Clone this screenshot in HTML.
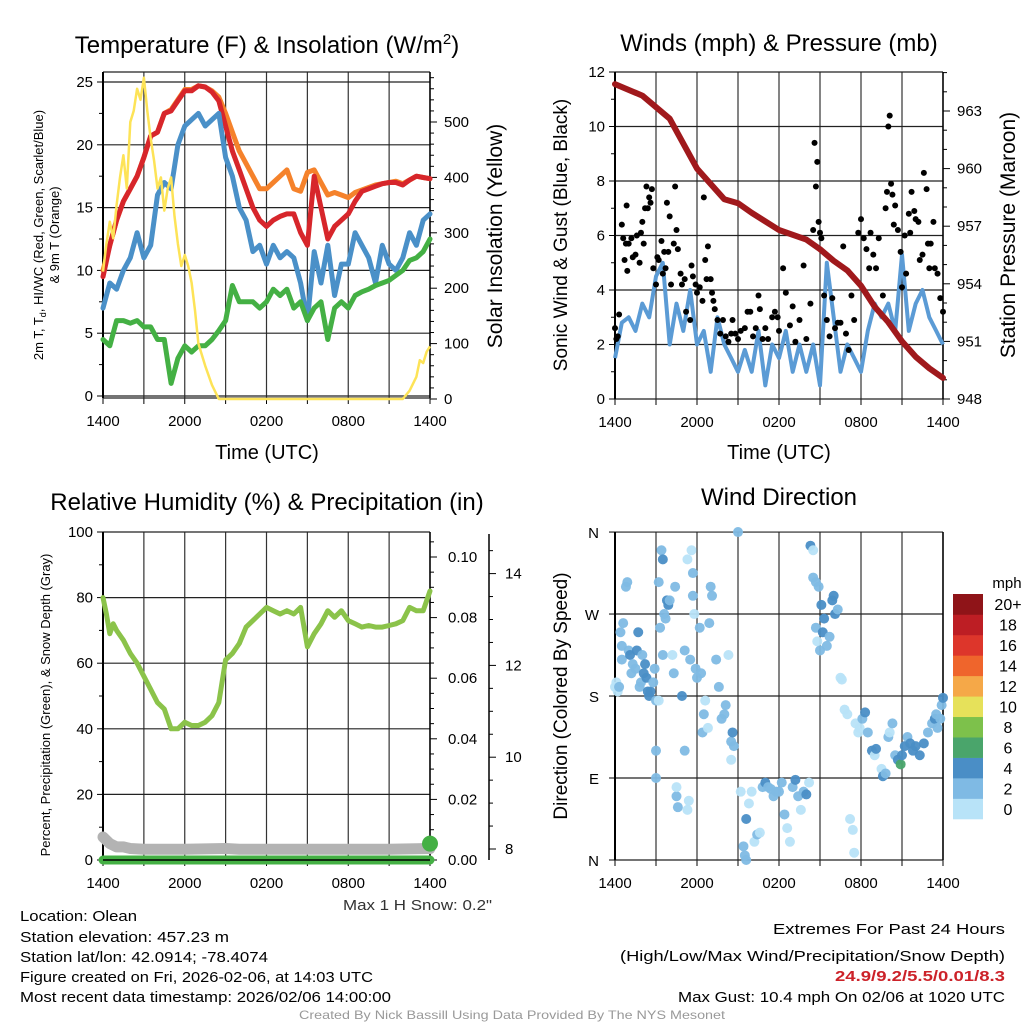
<!DOCTYPE html>
<html><head><meta charset="utf-8"><style>
html,body{margin:0;padding:0;background:#fff}
svg{display:block;font-family:"Liberation Sans",sans-serif}
</style></head><body>
<svg id="c" width="1024" height="1024" viewBox="0 0 1024 1024" xmlns="http://www.w3.org/2000/svg">
<rect width="1024" height="1024" fill="#fff"/>
<g id="g1"></g>
<g id="g2"></g>
<g id="g3"></g>
<g id="g4"></g>
<g font-size="24" text-anchor="middle" fill="#000">
<text x="267" y="53">Temperature (F) &amp; Insolation (W/m<tspan dy="-9" font-size="15">2</tspan><tspan dy="9">)</tspan></text>
<text x="779" y="51">Winds (mph) &amp; Pressure (mb)</text>
<text x="267" y="510">Relative Humidity (%) &amp; Precipitation (in)</text>
<text x="779" y="505">Wind Direction</text>
</g>
<g font-size="15" fill="#000">
<text x="20" y="921" textLength="117" lengthAdjust="spacingAndGlyphs">Location: Olean</text>
<text x="20" y="942" textLength="209" lengthAdjust="spacingAndGlyphs">Station elevation: 457.23 m</text>
<text x="20" y="962" textLength="248" lengthAdjust="spacingAndGlyphs">Station lat/lon: 42.0914; -78.4074</text>
<text x="20" y="982" textLength="353" lengthAdjust="spacingAndGlyphs">Figure created on Fri, 2026-02-06, at 14:03 UTC</text>
<text x="20" y="1002" textLength="371" lengthAdjust="spacingAndGlyphs">Most recent data timestamp: 2026/02/06 14:00:00</text>
</g>
<g font-size="15" text-anchor="end" fill="#000">
<text x="1005" y="934" textLength="232" lengthAdjust="spacingAndGlyphs">Extremes For Past 24 Hours</text>
<text x="1005" y="961" textLength="385" lengthAdjust="spacingAndGlyphs">(High/Low/Max Wind/Precipitation/Snow Depth)</text>
<text x="1005" y="981" font-weight="bold" fill="#cc2229" textLength="170" lengthAdjust="spacingAndGlyphs">24.9/9.2/5.5/0.01/8.3</text>
<text x="1005" y="1002" textLength="327" lengthAdjust="spacingAndGlyphs">Max Gust: 10.4 mph On 02/06 at 1020 UTC</text>
</g>
<text x="343" y="910" font-size="15" fill="#333" textLength="149" lengthAdjust="spacingAndGlyphs">Max 1 H Snow: 0.2"</text>
<text x="512" y="1019" font-size="12" fill="#999" text-anchor="middle" textLength="426" lengthAdjust="spacingAndGlyphs">Created By Nick Bassill Using Data Provided By The NYS Mesonet</text>
</svg>
<script>
// ---------- data ----------
const hoursHalf = [];for(let i=0;i<=48;i++)hoursHalf.push(i/2);
const tempRed = [9.5,12,14,15.5,16.5,17.5,19,20.7,21,22.5,22.7,23.5,24.3,24.3,24.7,24.6,24.2,23.5,21.5,19.5,18,16.5,15,14,13.5,14,14.3,14.5,14.5,13,12,17.5,15,12.5,13.5,14,14.5,15.5,16.3,16.5,16.7,16.9,17,17,16.8,17.2,17.5,17.4,17.3];
const temp9m = [10,12,14,15.5,16.5,17.5,19,20.7,21,22.5,22.8,23.6,24.4,24.4,24.7,24.6,24.3,23.8,22.5,21,19.5,18.5,17.5,16.5,16.5,17,17.5,18,16.5,16.3,17.8,18,17,16,16.2,16,15.8,16.2,16.4,16.6,16.8,16.9,17,17.1,16.9,17.2,17.5,17.4,17.3];
const windChill = [7,9,8.5,10,11,13,11,12,16,17,16.5,20,21.5,22,22.5,21.5,22,22.5,19,17.5,15,14,11.5,12,10.5,12,11,11.5,11,9,6,11.5,9,12,8,10.5,10.5,13,12,11,9,12,10.5,10,11,13,12,14,14.5];
const dewpoint = [4.5,4,6,6,5.8,6,5.5,5.5,4.5,4.5,1,3,4,3.5,4,4,4.5,5.2,6,8.8,7.5,7.5,7.5,7,7.5,8.5,8,8.5,7,7.5,6,7,7.5,4.5,7,7.5,7,8,8.3,8.5,8.8,9,9.2,9.6,10,10.8,11,11.5,12.5];
const solarHours = [0,0.25,0.5,0.75,1,1.25,1.5,1.75,2,2.25,2.5,2.75,3,3.25,3.5,3.75,4,4.25,4.5,4.75,5,5.25,5.5,5.75,6,6.25,6.5,6.75,7,7.5,8,8.5,22,22.5,23,23.25,23.5,23.75,24];
const solarVals = [230,280,320,290,350,400,440,380,500,520,560,540,580,520,470,430,380,400,340,380,400,330,280,240,260,240,210,160,100,60,25,0,0,15,40,70,65,85,95];
const windSpeed = [1.5,2.8,3,2.5,3.5,3,4.5,5,2,3.5,2.5,4,2,2.5,1,3,2,1.5,1,1.8,1,2.5,0.5,2,1.5,2.5,1,2,1,2,0.5,5,3,1,2,1.5,1,2.5,3.5,3,3.5,2.5,5.3,2.5,3.5,4,3,2.5,2];
const pressHours = [0,2,4,6,8,9,10,12,14,15,16,17,18,19,20,21,22,23,24];
const pressVals = [964.4,963.8,962.6,960.0,958.4,958.2,957.7,956.8,956.3,955.8,955.2,954.7,953.9,952.8,952.0,951.0,950.2,949.6,949.1];
const gustHours = [0,0.1,0.2,0.3,0.5,0.6,0.7,0.8,0.85,0.9,1.0,1.2,1.3,1.5,1.6,1.8,1.9,2.0,2.1,2.2,2.3,2.4,2.5,2.6,2.7,2.8,3.0,3.1,3.2,3.4,3.5,3.6,3.7,3.8,3.9,4.0,4.1,4.3,4.4,4.5,4.6,4.8,4.9,5.1,5.2,5.5,5.6,5.7,5.9,6.0,6.2,6.4,6.5,6.6,6.7,6.8,7.0,7.1,7.2,7.3,7.5,7.7,7.9,8.1,8.3,8.5,8.6,8.8,9.0,9.2,9.5,9.7,9.9,10.1,10.3,10.5,10.6,10.8,11.0,11.2,11.5,11.7,11.9,12.0,12.3,12.5,12.8,13.0,13.2,13.5,13.8,14.0,14.3,14.5,14.6,14.7,14.8,14.9,15.0,15.1,15.3,15.5,15.7,15.9,16.1,16.3,16.5,16.7,16.9,17.1,17.3,17.5,17.8,18.0,18.2,18.4,18.6,18.7,18.9,19.1,19.3,19.6,19.8,19.9,20.0,20.1,20.2,20.3,20.4,20.5,20.7,20.9,21.0,21.2,21.3,21.5,21.6,21.7,21.9,22.0,22.2,22.3,22.5,22.6,22.8,22.9,23.0,23.1,23.3,23.4,23.6,23.8,24.0];
const gustVals = [2.6,2.2,2.3,3.1,6.4,5.9,5.1,5.7,7.1,4.7,5.7,5.9,5.2,5.3,6.0,5.0,6.1,6.5,5.7,7.0,7.8,7.0,7.4,7.2,7.7,4.8,4.2,5.2,5.1,5.8,4.6,5.4,4.8,7.2,5.4,6.7,4.2,5.7,7.8,6.2,5.5,4.6,4.2,4.4,3.2,2.9,4.9,4.5,4.2,3.9,4.1,3.6,7.4,5.1,4.4,5.6,4.4,3.9,3.6,3.3,2.9,2.4,2.9,2.3,2.1,2.4,2.9,2.4,2.2,2.5,2.6,3.2,3.2,2.3,2.6,3.8,3.3,2.2,2.6,2.2,3.0,3.2,3.0,2.5,4.8,3.9,2.7,3.4,2.1,2.9,4.9,2.2,3.5,6.2,9.4,7.8,8.7,6.5,6.1,5.9,3.8,2.9,2.3,3.7,2.6,2.8,2.8,5.6,2.4,1.8,3.8,2.9,6.1,6.6,5.9,5.5,4.8,6.1,5.3,4.8,5.9,3.8,7.0,7.6,10.0,10.4,7.9,7.5,6.4,7.1,6.2,5.4,4.1,6.0,4.6,6.8,6.1,7.6,6.9,6.6,6.5,5.1,5.3,8.3,7.7,5.7,4.8,5.7,6.5,4.8,4.6,3.7,3.2];
const rhHours = [0,0.25,0.5,0.75,1,1.5,2,2.5,3,3.5,4,4.5,5,5.5,6,6.5,7,7.5,8,8.5,9,9.5,10,10.5,11,11.5,12,12.5,13,13.5,14,14.5,15,15.5,16,16.5,17,17.5,18,18.5,19,19.5,20,20.5,21,21.5,22,22.5,23,23.5,24];
const rhVals = [80,75,69,72,70,67,63,60,56,52,48,46,40,40,42,41,41,42,44,48,61,63,66,71,73,75,77,76,75,76,75,77,65,69,72,76,74,76,73,72,71,71.5,71,71,71.5,72,73,77,76,76,82];
const snowHours = [0,0.5,1,1.5,2,3,6,9,10,12,15,18,21,24];
const snowPct = [7,5,4,4,3.5,3.3,3.3,3.5,3.3,3.3,3.3,3.3,3.3,3.5];
const precipHours = [0,24];
const precipVals = [0,0];
const dirHours = [0,0.1,0.2,0.3,0.4,0.5,0.5,0.6,0.8,0.9,1.0,1.1,1.2,1.3,1.5,1.6,1.7,1.8,1.9,2.0,2.1,2.2,2.3,2.4,2.5,2.6,2.8,2.9,3.0,3.0,3.0,3.2,3.2,3.3,3.4,3.5,3.6,3.7,3.5,3.8,3.9,4.0,4.2,4.3,4.4,4.5,4.6,4.5,4.9,5.1,5.1,5.3,5.4,5.3,5.5,5.6,5.7,5.7,5.8,5.9,6.0,6.2,6.3,6.4,6.5,6.6,6.8,6.9,7.0,7.1,7.4,7.6,7.8,8.0,8.1,8.3,8.5,8.6,8.7,8.5,9.0,9.2,9.4,9.5,9.6,9.6,9.8,10.0,10.2,10.4,10.6,10.8,11.0,11.2,11.4,11.6,11.8,12.0,12.2,12.4,12.6,12.8,13.0,13.2,13.4,13.6,13.8,14.0,14.2,14.3,14.5,14.5,14.7,14.9,14.7,14.8,15.0,15.1,15.2,15.3,15.5,15.7,15.9,16.0,16.1,16.3,16.5,16.6,16.8,17.0,17.2,17.4,17.5,17.6,17.8,17.9,18.1,18.3,18.5,18.8,19.0,19.1,19.5,19.6,19.8,20.0,20.1,20.3,20.5,20.7,20.9,21.0,21.2,21.4,21.6,21.8,22.0,22.3,22.6,22.9,23.2,23.4,23.5,23.6,23.8,23.9,24.0];
const dirVals = [190,195,185,190,250,235,220,260,300,305,230,225,205,215,210,230,250,190,195,225,205,215,200,185,180,185,195,210,175,120,90,305,175,255,340,330,270,265,225,285,280,285,225,205,300,70,58,80,180,230,120,55,65,330,220,340,315,290,270,210,200,255,205,140,160,175,145,260,300,290,220,190,155,160,170,225,130,140,125,110,360,75,15,5,0,45,62,75,20,28,30,80,85,80,78,70,75,75,85,50,35,20,80,88,70,55,75,72,85,345,340,310,305,300,255,240,230,280,250,265,235,245,285,290,270,275,200,198,165,160,45,33,8,150,140,145,155,162,140,120,115,122,100,92,95,135,140,150,115,110,105,115,125,135,128,120,125,115,128,140,150,155,160,145,155,170,178];
const dirSpeed = [1,1,1,2,2,2,2,2,2,2,2,4,2,2,2,4,4,2,2,2,4,4,4,4,4,4,2,2,2,2,2,2,1,2,2,4,2,2,2,4,4,2,1,2,2,2,2,1,4,2,2,1,1,1,2,1,2,2,1,2,2,2,2,2,2,1,1,2,2,2,2,2,2,2,2,1,2,4,2,1,2,1,2,2,2,4,1,1,1,2,1,2,4,2,2,2,2,2,2,2,1,1,2,4,2,1,2,4,1,4,1,2,2,2,2,1,2,4,4,4,2,2,4,4,4,2,1,1,1,1,1,1,1,1,1,1,2,4,2,4,1,4,1,4,2,2,1,2,2,4,6,4,4,2,4,4,4,4,4,2,2,4,2,2,2,2,4];
const xTickLabels = ['1400','2000','0200','0800','1400'];
const tempTicks = [0,5,10,15,20,25];
const solarTicks = [0,100,200,300,400,500];
const windTicks = [0,2,4,6,8,10,12];
const pressTicks = [948,951,954,957,960,963];
const rhTicks = [0,20,40,60,80,100];
const precipTicks = ['0.00','0.02','0.04','0.06','0.08','0.10'];
const snowTicks = [8,10,12,14];
const dirTickLabels = ['N','E','S','W','N'];
const colorLabels = ['0','2','4','6','8','10','12','14','16','18','20+'];
const colorFills = ['#b8e3f8','#7fbae4','#4a8ec6','#4aa56b','#7dc14b','#e6e15a','#f5a848','#ef652c','#dd362b','#bd1e24','#8f1418'];

// ---------- helpers ----------
const NS='http://www.w3.org/2000/svg';
function mk(parent,tag,attrs,txt){const e=document.createElementNS(NS,tag);for(const k in attrs)e.setAttribute(k,attrs[k]);if(txt!==undefined)e.textContent=txt;parent.appendChild(e);return e;}
function line(p,x1,y1,x2,y2,st,w){return mk(p,'line',{x1,y1,x2,y2,stroke:st||'#000','stroke-width':w||1});}
function txt(p,x,y,s,size,anchor,extra){const a={x,y,'font-size':size,'text-anchor':anchor||'middle',fill:'#000'};if(extra)Object.assign(a,extra);return mk(p,'text',a,s);}
function pathD(xs,ys,fx,fy){let d='';for(let i=0;i<xs.length;i++){d+=(i?'L':'M')+fx(xs[i]).toFixed(1)+','+fy(ys[i]).toFixed(1);}return d;}
const X0=[103,615],X1=[430,943];
function panelFrame(g,x0,x1,yt,yb,ylines){
  for(let h=0;h<=24;h+=3){const x=x0+h*(x1-x0)/24;const l=line(g,x,yt,x,yb,'#333',1.2);line(g,x,yb,x,yb+6,'#000',1);}
  ylines.forEach(y=>{const l=line(g,x0,y,x1,y,'#222',1.2);});
  line(g,x0,yt,x0,yb,'#000',2);line(g,x1,yt,x1,yb,'#000',1.5);
  xTickLabels.forEach((s,i)=>{const t=txt(g,x0+i*6*(x1-x0)/24,yb+28,s,15);});
}

// ---------- panel 1 ----------
(function(){
const g=document.getElementById('g1');const x0=X0[0],x1=X1[0];
const fx=h=>x0+h*(x1-x0)/24, fy=v=>396-v*12.56, fs=v=>399-v*0.554;
panelFrame(g,x0,x1,72,398,[72,398].concat(tempTicks.map(fy)));
tempTicks.forEach(v=>{line(g,x0-6,fy(v),x0,fy(v));const t=txt(g,x0-10,fy(v)+5,String(v),15,'end');});
for(let v=2.5;v<26;v+=5)line(g,x0-4,fy(v),x0,fy(v));
for(let v=0;v<=580;v+=20)line(g,x1,fs(v),x1+(v%100===0?7:4),fs(v));
solarTicks.forEach(v=>{const t=txt(g,x1+14,fs(v)+5,String(v),15,'start');});
const series=[[temp9m,'#f5822b','nine-meter-temp-line'],[tempRed,'#d7262b','temperature-line'],[windChill,'#4a90c8','wind-chill-line'],[dewpoint,'#44b044','dewpoint-line']];
series.forEach(s=>{const p=mk(g,'path',{d:pathD(hoursHalf,s[0],fx,fy),fill:'none',stroke:s[1],'stroke-width':5,'stroke-linejoin':'round','stroke-linecap':'round'});});
const sp=mk(g,'path',{d:pathD(solarHours,solarVals,fx,fs),fill:'none',stroke:'#fde357','stroke-width':2.5,'stroke-linejoin':'round'});

const yl=txt(g,0,0,'',13,'middle',{transform:'translate(43,235) rotate(-90)'});
yl.innerHTML='2m T, T<tspan font-size="9" dy="3">d</tspan><tspan dy="-3">, HI/WC (Red, Green, Scarlet/Blue)</tspan>';
const yl2=txt(g,0,0,'& 9m T (Orange)',13,'middle',{transform:'translate(59,235) rotate(-90)'});
const yr=txt(g,0,0,'Solar Insolation (Yellow)',21,'middle',{transform:'translate(502,236) rotate(-90)'});
const xt=txt(g,267,459,'Time (UTC)',20);
})();

// ---------- panel 2 ----------
(function(){
const g=document.getElementById('g2');const x0=X0[1],x1=X1[1];
const fx=h=>x0+h*(x1-x0)/24, fy=v=>399-v*27.25, fp=p=>399-(p-948)*19.2;
panelFrame(g,x0,x1,72,399,windTicks.map(fy));
windTicks.forEach(v=>{line(g,x0-6,fy(v),x0,fy(v));const t=txt(g,x0-10,fy(v)+5,String(v),15,'end');});
for(let v=1;v<12;v+=2)line(g,x0-4,fy(v),x0,fy(v));
for(let p=948;p<=965;p++)line(g,x1,fp(p),x1+((p-948)%3===0?7:4),fp(p));
pressTicks.forEach(p=>{const t=txt(g,x1+14,fp(p)+5,String(p),15,'start');});
const wl=mk(g,'path',{d:pathD(hoursHalf,windSpeed,fx,fy),fill:'none',stroke:'#5b9bd5','stroke-width':4,'stroke-linejoin':'round'});

gustHours.forEach((h,i)=>{const c=mk(g,'circle',{cx:fx(h),cy:fy(gustVals[i]),r:3,fill:'#000'});

});
const pl=mk(g,'path',{d:pathD(pressHours,pressVals,fx,fp),fill:'none',stroke:'#a0191c','stroke-width':6,'stroke-linejoin':'round','stroke-linecap':'round'});

const yl=txt(g,0,0,'Sonic Wind & Gust (Blue, Black)',19,'middle',{transform:'translate(567,235) rotate(-90)'});
const yr=txt(g,0,0,'Station Pressure (Maroon)',21,'middle',{transform:'translate(1015,235) rotate(-90)'});
const xt=txt(g,779,459,'Time (UTC)',20);
})();

// ---------- panel 3 ----------
(function(){
const g=document.getElementById('g3');const x0=X0[0],x1=X1[0];
const fx=h=>x0+h*(x1-x0)/24, fy=v=>860-v*3.28, fpr=v=>860-v*3030, fsn=v=>849-(v-8)*45.9;
panelFrame(g,x0,x1,532,860,rhTicks.map(fy));
rhTicks.forEach(v=>{line(g,x0-6,fy(v),x0,fy(v));const t=txt(g,x0-10,fy(v)+5,String(v),15,'end');});
for(let v=10;v<100;v+=20)line(g,x0-4,fy(v),x0,fy(v));
for(let i=0;i<=21;i++){const v=i*0.005;line(g,x1,fpr(v),x1+(i%4===0?7:4),fpr(v));}
precipTicks.forEach((s,i)=>{const t=txt(g,x1+18,fpr(i*0.02)+5,s,15,'start');});
line(g,489,534,489,860,'#000',1.5);
for(let v=8;v<=14.5;v+=0.5)line(g,489,fsn(v),489+((v%2===0)?7:4),fsn(v));
snowTicks.forEach(v=>{const t=txt(g,505,fsn(v)+5,String(v),15,'start');});
const sl=mk(g,'path',{d:pathD(snowHours,snowPct,fx,fy),fill:'none',stroke:'#b3b3b3','stroke-width':11,'stroke-linejoin':'round','stroke-linecap':'round'});

const pr=mk(g,'path',{d:pathD(precipHours,precipVals,fx,fpr),fill:'none',stroke:'#44b044','stroke-width':9,'stroke-linecap':'round'});

const pd=mk(g,'circle',{cx:fx(24),cy:fy(5),r:8,fill:'#44b044'});
line(g,x0,860,x1,860,'#000',1.5);
const rl=mk(g,'path',{d:pathD(rhHours,rhVals,fx,fy),fill:'none',stroke:'#8bc34a','stroke-width':5,'stroke-linejoin':'round','stroke-linecap':'round'});

const yl=txt(g,0,0,'Percent, Precipitation (Green), & Snow Depth (Gray)',13,'middle',{transform:'translate(50,705) rotate(-90)'});
})();

// ---------- panel 4 ----------
(function(){
const g=document.getElementById('g4');const x0=X0[1],x1=X1[1];
const fx=h=>x0+h*(x1-x0)/24, fy=d=>860-d*0.911;
panelFrame(g,x0,x1,532,860,[0,90,180,270,360].map(fy));
dirTickLabels.forEach((s,i)=>{line(g,x0-6,fy(i*90),x0,fy(i*90));const t=txt(g,x0-16,fy(i*90)+6,s,15,'end');});
dirHours.forEach((h,i)=>{const s=dirSpeed[i];const col=colorFills[Math.min(10,Math.floor(s/2))];
const c=mk(g,'circle',{cx:fx(h),cy:fy(dirVals[i]),r:5,fill:col,'fill-opacity':0.95});

});
const cb=mk(g,'g',{});
const h=225/11;
colorFills.forEach((c,i)=>{const y=819-(i+1)*h;mk(cb,'rect',{x:953,y:y,width:30,height:h+0.3,fill:c});
const t=txt(cb,1008,y+h/2+6,colorLabels[i],16);});
const u=txt(g,1007,588,'mph',15);
const yl=txt(g,0,0,'Direction (Colored By Speed)',19,'middle',{transform:'translate(567,696) rotate(-90)'});
})();
</script>
</body></html>
